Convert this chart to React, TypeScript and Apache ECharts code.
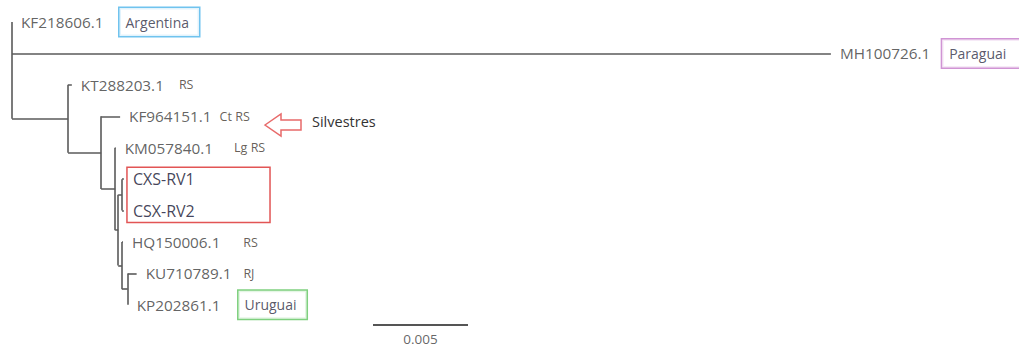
import React, { useEffect, useRef } from "react";
import * as echarts from "echarts";

// ---- Tree data (parent index + branch length in substitutions/site) ----
const nodeNames = [
  "root", "KF218606.1", "MH100726.1", "n1", "KT288203.1", "n2", "KF964151.1",
  "n3", "KM057840.1", "n4", "n5", "CXS-RV1", "CSX-RV2", "n6", "HQ150006.1",
  "n7", "KU710789.1", "KP202861.1",
];
const parentIndex = [-1, 0, 0, 0, 3, 3, 5, 5, 7, 7, 9, 10, 10, 9, 13, 13, 15, 15];
const branchLengths = [
  0, 0, 0.0431, 0.00295, 0.0002, 0.00174, 0.001, 0.00074, 0.00003, 0.00016,
  0.0002, 0.0001, 0.0001, 0.0002, 0.00005, 0.0003, 0.00047, 0,
];

// ---- Annotations ----
const noteLeaves = ["KF218606.1", "MH100726.1", "KT288203.1", "KF964151.1", "KM057840.1", "HQ150006.1", "KU710789.1", "KP202861.1"];
const noteTexts = ["Argentina", "Paraguai", "RS", "Ct RS", "Lg RS", "RS", "RJ", "Uruguai"];
const highlightedLeaves = ["CXS-RV1", "CSX-RV2"];
const calloutText = "Silvestres";
const scaleBarLength = 0.005;
const scaleBarLabel = "0.005";

// ---- styles (not data) ----
const noteGap: Record<string, number> = {
  "KF218606.1": 16, "MH100726.1": 12, "KT288203.1": 15, "KF964151.1": 8,
  "KM057840.1": 21, "HQ150006.1": 23, "KU710789.1": 12, "KP202861.1": 18,
};
const boxColors: Record<string, string> = {
  Argentina: "#4cb4ea",
  Paraguai: "#c479c9",
  Uruguai: "#5fc45f",
};
const FONT = "Open Sans";

function buildTree() {
  const n = nodeNames.length;
  const children: number[][] = Array.from({ length: n }, () => []);
  parentIndex.forEach((p, i) => { if (p >= 0) children[p].push(i); });
  const x: number[] = new Array(n).fill(0);
  for (let i = 0; i < n; i++) {
    x[i] = (parentIndex[i] < 0 ? 0 : x[parentIndex[i]]) + branchLengths[i];
  }
  const y: number[] = new Array(n).fill(0);
  let leafCounter = 0;
  const visit = (i: number) => {
    if (children[i].length === 0) { y[i] = leafCounter++; return; }
    children[i].forEach(visit);
    const c = children[i];
    y[i] = (y[c[0]] + y[c[c.length - 1]]) / 2;
  };
  visit(0);
  const segments: { coords: number[][] }[] = [];
  for (let i = 0; i < n; i++) {
    const c = children[i];
    if (c.length) segments.push({ coords: [[x[i], y[c[0]]], [x[i], y[c[c.length - 1]]]] });
    const p = parentIndex[i];
    if (p >= 0) segments.push({ coords: [[x[p], y[i]], [x[i], y[i]]] });
  }
  const leaves = nodeNames
    .map((name, i) => ({ name, i }))
    .filter((d) => children[d.i].length === 0)
    .map((d) => ({ name: d.name, value: [x[d.i], y[d.i]] }));
  return { segments, leaves, leafCount: leafCounter };
}

export default function App() {
  const ref = useRef<HTMLDivElement>(null);
  useEffect(() => {
    if (!ref.current) return;
    const chart = echarts.init(ref.current, null, { renderer: "svg" });
    const { segments, leaves, leafCount } = buildTree();

    const rich: Record<string, any> = {
      id: { fontFamily: FONT, fontSize: 15.3, color: "#3a3a3a", verticalAlign: "middle" },
      hl: { fontFamily: FONT, fontSize: 16, fontWeight: 500, color: "#121230", verticalAlign: "middle" },
      q: { fontFamily: FONT, fontSize: 12.5, color: "#40362e", verticalAlign: "middle" },
    };
    Object.keys(boxColors).forEach((k) => {
      rich["b" + k] = {
        fontFamily: FONT, fontSize: 14, color: "#2e2e44", verticalAlign: "middle",
        borderColor: boxColors[k], borderWidth: 1.5, backgroundColor: "#fff",
        padding: k === "Paraguai" ? [7, 30, 7, 7] : [7, 10, 7, 6],
      };
    });
    noteLeaves.forEach((name, i) => {
      rich["g" + i] = { width: noteGap[name], fontSize: 10, verticalAlign: "middle" };
    });

    const sbStart = 0.019;
    const sbY = leafCount - 1 + 0.62;

    chart.setOption({
      animation: false,
      backgroundColor: "#fff",
      textStyle: { fontFamily: FONT },
      grid: { left: 12, top: 22, width: 950, height: 331.4 },
      xAxis: { type: "value", min: 0, max: 0.05, show: false },
      yAxis: { type: "value", min: 0, max: 10.5, inverse: true, show: false },
      series: [
        {
          type: "lines",
          coordinateSystem: "cartesian2d",
          polyline: false,
          silent: true,
          lineStyle: { color: "#5a5a5a", width: 1.6, opacity: 1 },
          data: segments,
        },
        {
          type: "scatter",
          symbolSize: 0,
          silent: true,
          data: leaves,
          label: {
            show: true,
            position: "right",
            distance: 9,
            formatter: (p: any) => {
              const name = p.name as string;
              const style = highlightedLeaves.includes(name) ? "hl" : "id";
              let s = `{${style}|${name}}`;
              const ni = noteLeaves.indexOf(name);
              if (ni >= 0) {
                const note = noteTexts[ni];
                const key = boxColors[note] ? "b" + note : "q";
                s += `{g${ni}| }{${key}|${note}}`;
              }
              return s;
            },
            rich,
          },
          markArea: {
            silent: true,
            itemStyle: { color: "rgba(0,0,0,0)", borderColor: "#e25555", borderWidth: 1.5 },
            label: { show: false },
            data: [[{ coord: [0.00605, 4.62] }, { coord: [0.01358, 6.38] }]],
          },
        },
        {
          type: "lines",
          coordinateSystem: "cartesian2d",
          silent: true,
          lineStyle: { color: "#555", width: 1.8, opacity: 1 },
          data: [{ coords: [[sbStart, sbY], [sbStart + scaleBarLength, sbY]] }],
        },
        {
          type: "scatter",
          symbolSize: 0,
          silent: true,
          data: [{ name: scaleBarLabel, value: [sbStart + scaleBarLength / 2, sbY + 0.48] }],
          label: {
            show: true,
            position: "inside",
            formatter: "{b}",
            fontFamily: FONT,
            fontSize: 13.5,
            color: "#3d3d3d",
          },
        },
      ],
      graphic: [
        {
          type: "polygon",
          shape: {
            points: [[265, 125], [281, 114], [281, 120], [301, 120], [301, 130], [281, 130], [281, 136]],
          },
          style: { fill: "#fff", stroke: "#e86a6a", lineWidth: 1.5 },
        },
        {
          type: "text",
          x: 312,
          y: 121,
          style: {
            text: calloutText,
            fontFamily: FONT,
            fontSize: 14.5,
            fill: "#333",
            verticalAlign: "middle",
          },
        },
      ],
    });
    return () => chart.dispose();
  }, []);
  return (
    <div
      ref={ref}
      style={{ position: "fixed", left: 0, top: 0, width: 1019, height: 352, background: "#fff" }}
    />
  );
}
